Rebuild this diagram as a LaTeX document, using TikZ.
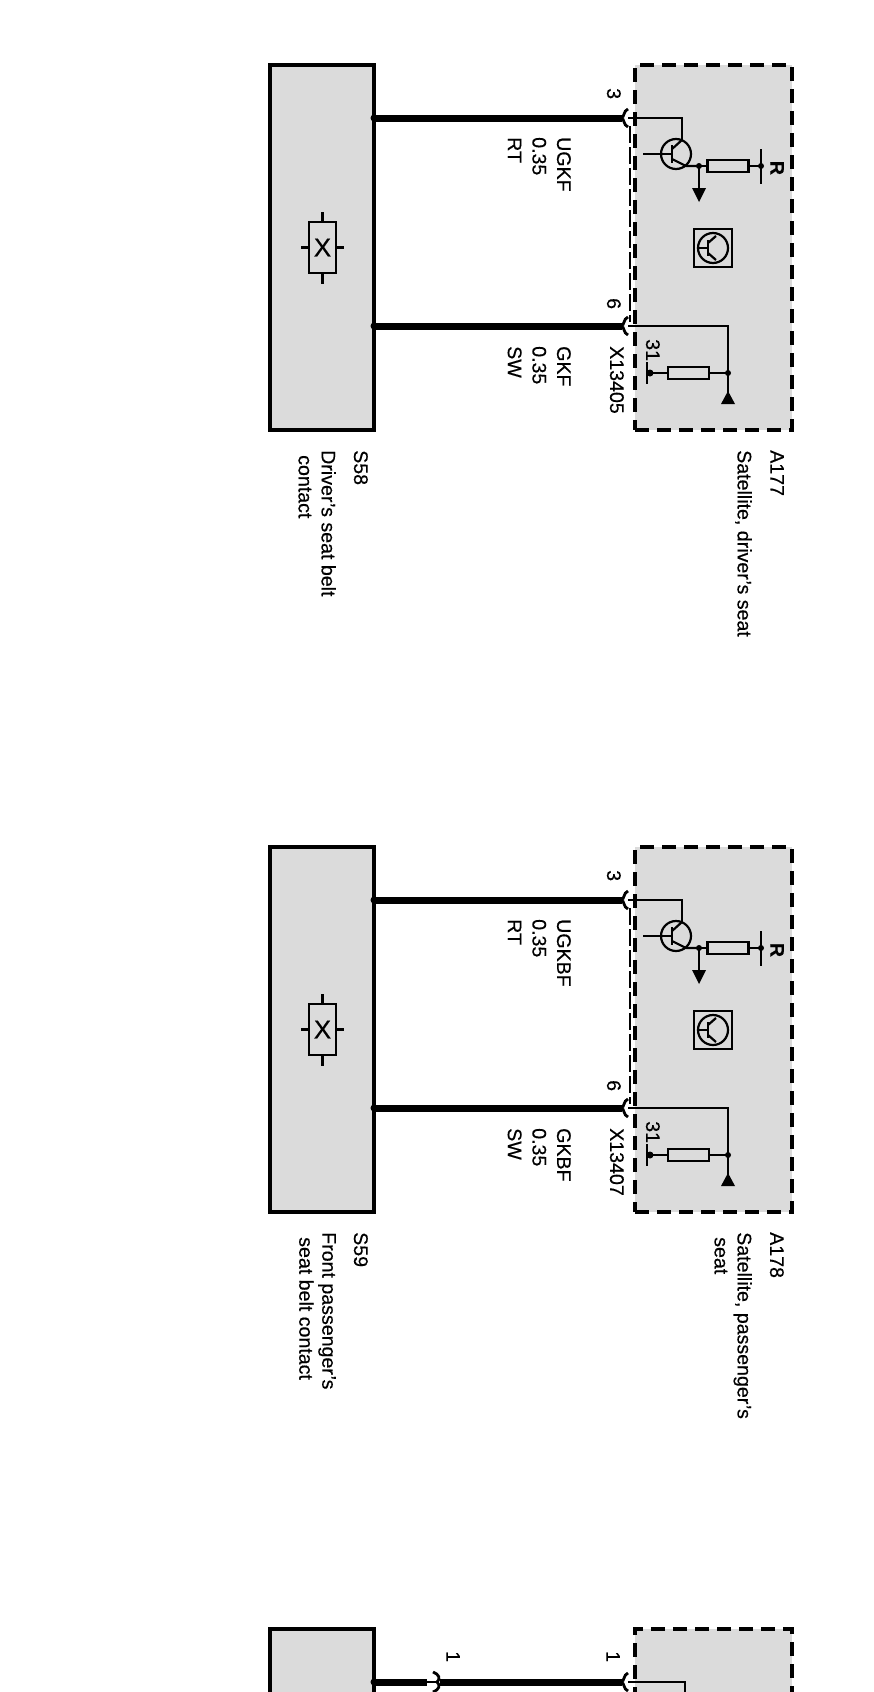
\documentclass[tikz,border=0pt]{standalone}
\usepackage{fontspec}
\setmainfont{Liberation Sans}[FakeBold=0.4]
\usetikzlibrary{calc}
\definecolor{boxgray}{HTML}{DBDBDB}
\tikzset{
  contactbox/.style={draw, line width=4pt, fill=boxgray, inner sep=0pt, outer sep=0pt, minimum width=104pt},
  satbox/.style={draw, line width=4pt, fill=boxgray, inner sep=0pt, outer sep=0pt, minimum width=157pt, dash pattern=on 14pt off 8pt},
  wire/.style={line width=7pt},
  thinline/.style={line width=2pt},
  symline/.style={line width=2.2pt},
  lbl/.style={rotate=-90, anchor=north west, align=left, inner sep=0pt, font=\fontsize{19.6}{23}\selectfont},
  wirelbl/.style={lbl, font=\fontsize{19.6}{24.6}\selectfont},
  resistor/.style={draw, line width=2.2pt, fill=boxgray, inner sep=0pt, outer sep=0pt, minimum width=41pt, minimum height=12pt}
}
% socket on the end of a wire, opening to the right
\newcommand{\socket}[1]{\draw[line width=2.8pt] ($(#1)+(0,-9)$) .. controls ($(#1)+(-5,-7)$) and ($(#1)+(-3,-1)$) .. ($(#1)+(-7,0)$) .. controls ($(#1)+(-3,1)$) and ($(#1)+(-5,7)$) .. ($(#1)+(0,9)$);}
\begin{document}
\begin{tikzpicture}[x=1pt, y=-1pt]
  \useasboundingbox (0,0) rectangle (874,1692);
  \clip (0,0) rectangle (874,1692);

  % The two seat blocks
  \foreach \off/\sname/\stext/\aname/\atext/\wa/\wb/\xname in {
      0/S58/{Driver's seat belt\\\hspace*{5pt}contact}/A177/{Satellite, driver's seat}/UGKF/GKF/X13405,
      782/S59/{Front passenger's\\\hspace*{5pt}seat belt contact}/A178/{Satellite, passenger's\\\hspace*{5pt}seat}/UGKBF/GKBF/X13407}
  {
    \begin{scope}[shift={(0,\off)}]
      % Boxes
      \node[contactbox, minimum height=365pt] (contact) at (322,247.5) {};
      \node[satbox, minimum height=365pt] (sat) at (713.5,247.5) {};
      \coordinate (pinA) at (628,118);
      \coordinate (pinB) at (628,326);

      % Thick wires
      \draw[wire] (contact.east |- pinA) -- ($(pinA)+(-6,0)$);
      \draw[wire] (contact.east |- pinB) -- ($(pinB)+(-6,0)$);
      \fill (contact.east |- pinA) circle (3.5pt);
      \fill (contact.east |- pinB) circle (3.5pt);
      \socket{pinA}
      \socket{pinB}
      \draw[thinline, dash pattern=on 17pt off 4pt] ($(pinA)+(1.5,8)$) -- ($(pinB)+(1.5,-4)$);

      % Switch symbol
      \node[draw, symline, fill=boxgray, minimum width=27pt, minimum height=51pt, inner sep=0pt, outer sep=0pt, font=\fontsize{26}{26}\selectfont] (xsym) at (322.5,247.5) {X};
      \draw[symline] (xsym.north) -- ++(0,-10);
      \draw[symline] (xsym.south) -- ++(0,11);
      \draw[symline] (xsym.west) -- ++(-8,0);
      \draw[symline] (xsym.east) -- ++(8,0);

      % Transistor
      \coordinate (tr) at (676,154);
      \coordinate (junc) at (699,166);
      \draw[symline] (tr) circle (15pt);
      \draw[thinline] (pinA) -| (682,140);
      \draw[symline] (643,154) -- (672,154);
      \draw[line width=2.5pt] (672,145) -- (672,163);
      \draw[symline] (672,149) -- (682,140);
      \draw[symline] (672,159) -- (686,166) -- (junc);
      \fill (junc) circle (3pt);
      \draw[symline] (junc) -- (699,190);
      \fill (692,188) -- (706,188) -- (699,202) -- cycle;

      % Pull-up resistor
      \node[resistor] (rup) at (728,166) {};
      \coordinate (rail) at (761,166);
      \draw[symline] (junc) -- (rup.west);
      \draw[symline] (rup.east) -- (rail);
      \fill (rail) circle (3pt);
      \draw[symline] (761,149) -- (761,184);
      \node[lbl, anchor=north] (rlabel) at (784,168) {\textbf{R}};

      % Transistor icon
      \node[draw, symline, minimum width=38pt, minimum height=38pt, inner sep=0pt] (icon) at (713,248) {};
      \draw[symline] (icon.center) circle (15pt);
      \draw[symline] (698,248) -- (708,248);
      \draw[line width=2.5pt] (708,240) -- (708,256);
      \draw[symline] (708,243) -- (716,236);
      \draw[symline] (708,253) -- (716,260);

      % Pin 6 to ground
      \coordinate (gnd) at (728,373);
      \draw[thinline] (pinB) -| (gnd) -- (728,396);
      \fill (gnd) circle (3pt);
      \fill (721,404) -- (735,404) -- (728,391) -- cycle;
      \node[resistor] (rgnd) at (688.5,373) {};
      \draw[symline] (gnd) -- (rgnd.east);
      \coordinate (bar) at (647,373);
      \draw[symline] (rgnd.west) -- (bar);
      \fill (650,373) circle (3.5pt);
      \draw[symline] (bar) ++(0,-11) -- ++(0,22);

      % Labels
      \node[lbl] (pinlabelA) at (621,88) {3};
      \node[lbl] (pinlabelB) at (621,298) {6};
      \node[lbl] (conn) at (624,346) {\xname};
      \node[lbl] (thirtyone) at (660,339) {31};
      \node[wirelbl] (wireA) at (571,137) {\wa\\0.35\\RT};
      \node[wirelbl] (wireB) at (571,346) {\wb\\0.35\\SW};
      \node[lbl] (contactname) at (368,450) {\sname};
      \node[lbl] (contacttext) at (336,450) {\stext};
      \node[lbl] (satname) at (784,450) {\aname};
      \node[lbl] (sattext) at (752,450) {\atext};
    \end{scope}
  }

  % Third block, cut off by the page
  \node[contactbox, minimum height=200pt] (contact3) at (322,1729) {};
  \node[satbox, minimum height=200pt] (sat3) at (713.5,1729) {};
  \coordinate (pinC) at (628,1682);
  \coordinate (pinD) at (434,1682);
  \draw[wire] (contact3.east |- pinC) -- (427,1682);
  \draw[wire] (440,1682) -- ($(pinC)+(-6,0)$);
  \fill (contact3.east |- pinC) circle (3.5pt);
  \socket{pinC}
  \draw[thinline] (427,1682) -- (437,1682);
  \draw[line width=2.8pt] (433,1672) .. controls (439,1674) and (441,1679) .. (437,1682) .. controls (441,1685) and (439,1690) .. (433,1692);
  \draw[thinline] (pinC) -- (685,1682) -- (685,1700);
  \node[lbl] (pinlabelC) at (620,1651) {1};
  \node[lbl] (pinlabelD) at (460,1651) {1};
\end{tikzpicture}
\end{document}
